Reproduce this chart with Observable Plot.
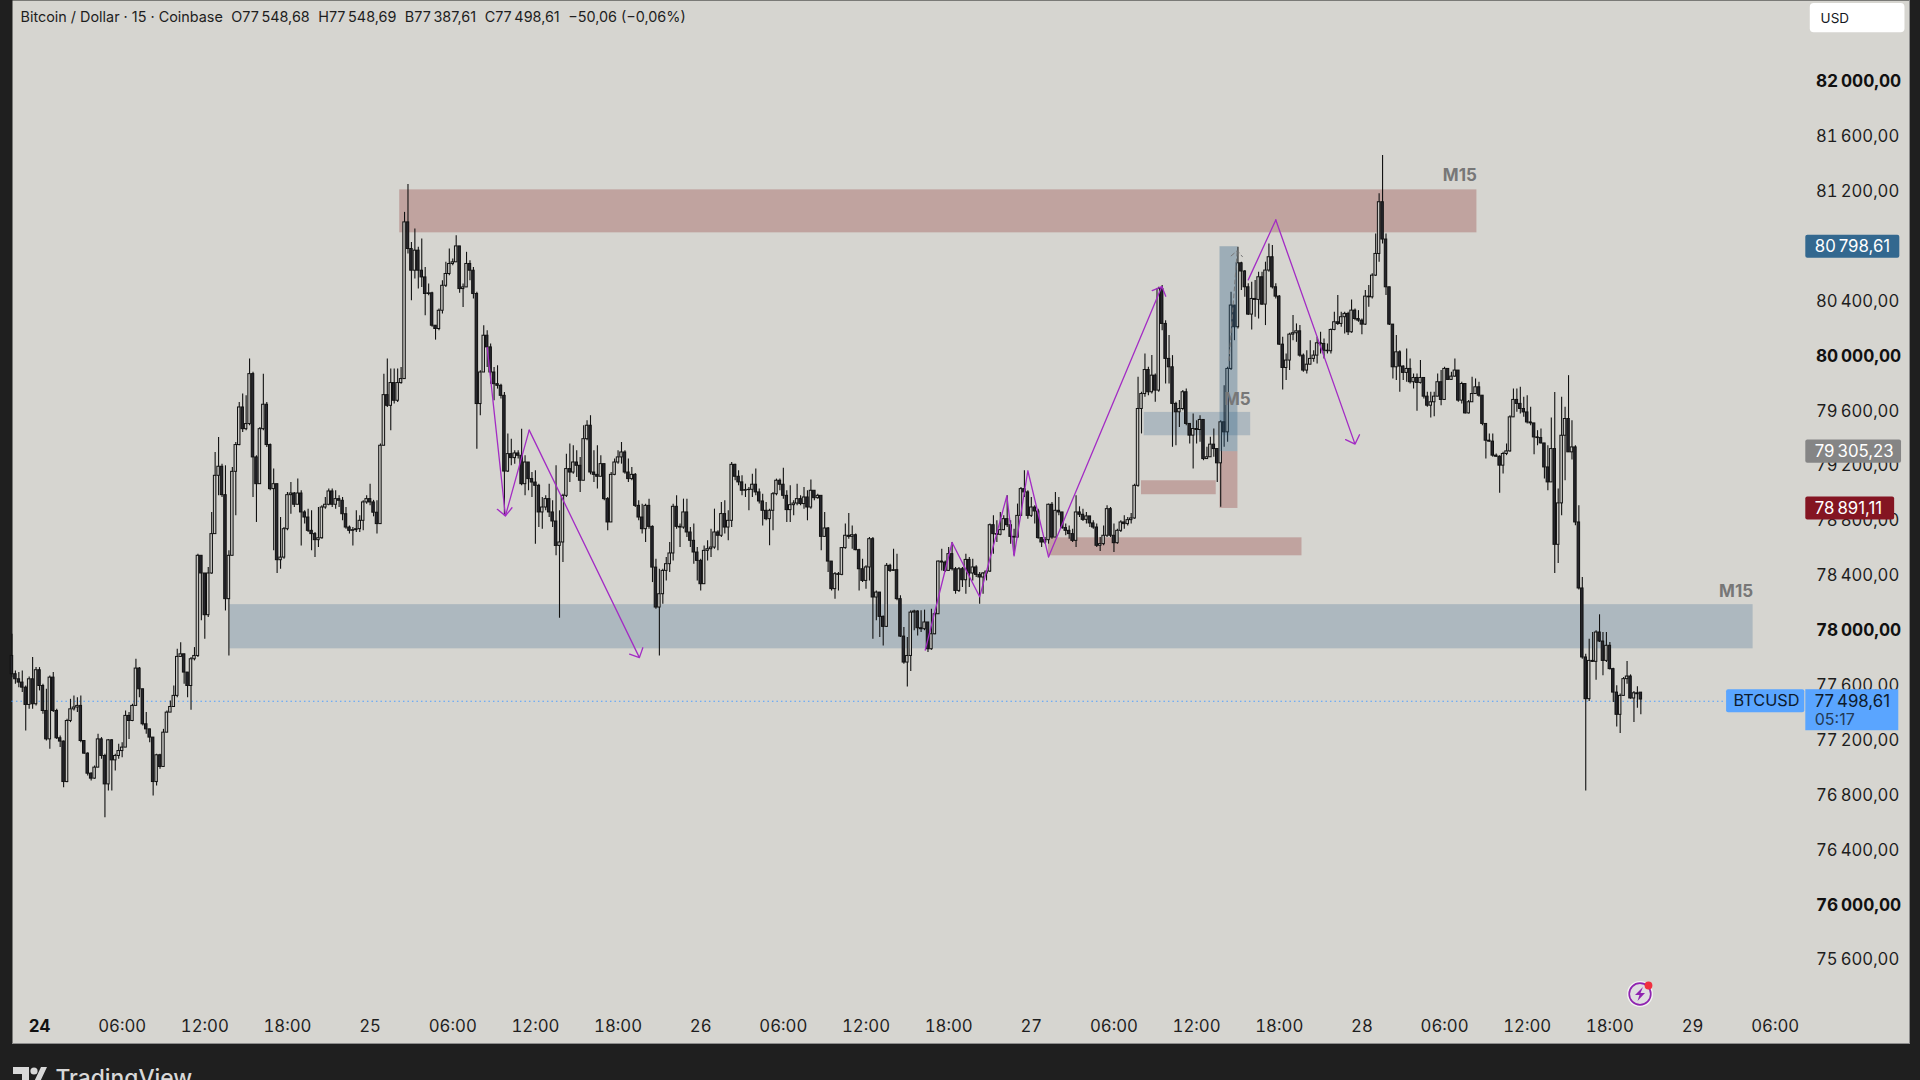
<!DOCTYPE html>
<html><head><meta charset="utf-8">
<script src="https://cdn.jsdelivr.net/npm/d3@7"></script>
<script src="https://cdn.jsdelivr.net/npm/@observablehq/plot@0.6"></script>
<style>html,body{margin:0;background:#1f1f1f}svg{display:block}</style></head><body>
<script>
// Each session: flat close, high, low triples, 15-minute bars in order. Open = previous close.
const firstOpen = 77816;
const sessionA = [
77683,77974,77658, 77646,77707,77610, 77622,77695,77585, 77585,77707,77549, 77459,77597,77269, 77646,77663,77427, 77464,77804,77427, 77712,77731,77452, 77597,77731,77561, 77415,77610,77391,
77208,77573,77196, 77658,77670,77136, 77415,77695,77403, 77216,77427,77208, 77192,77233,77148, 76897,77196,76856, 77342,77354,76892, 77427,77500,77330, 77440,77525,77415, 77452,77512,77403,
77196,77525,77184, 77104,77196,77099, 76958,77111,76941, 76922,76965,76905, 77002,77014,76917, 77208,77245,77002, 77087,77221,77063, 76880,77099,76637, 77201,77208,76832, 77055,77208,76832,
77087,77099,76978, 77123,77172,77063, 77148,77184,77075, 77379,77415,77148, 77342,77403,77208, 77452,77464,77337, 77724,77792,77452, 77573,77731,77512, 77318,77573,77306, 77281,77403,77245,
77221,77281,77184, 76897,77221,76795, 77092,77099,76868, 77007,77099,76990, 77257,77281,77007, 77403,77415,77257, 77444,77488,77403, 77525,77597,77444, 77809,77865,77512, 77828,77913,77804,
77695,77828,77610, 77597,77695,77512, 77792,77804,77420, 77816,77877,77780, 78546,78558,77804, 78417,78546,78072, 78113,78417,77938, 78417,78460,78096, 78704,78862,78412, 79129,79299,78704,
79195,79409,78983, 78988,79214,78971, 78230,79202,78144, 78546,78582,77816, 79158,79190,78546, 79353,79372,78837, 79627,79664,79348, 79469,79725,79445, 79506,79712,79457, 79870,79980,79494];
const sessionB = [
79263,79883,78971, 79068,79275,78789, 79469,79482,79068, 79647,79870,79457, 79353,79664,79336, 79032,79360,79020, 79068,79178,78582, 78514,79068,78417, 78533,78825,78448, 78740,78752,78521,
78988,79007,78728, 79000,79080,78849, 78918,79007,78898, 79000,79105,78918, 78862,79020,78618, 78825,78874,78777, 78728,78886,78716, 78704,78874,78582, 78660,78716,78533, 78674,78898,78606,
78898,78910,78667, 78918,78971,78886, 79015,79032,78910, 78918,79032,78898, 78959,79020,78886, 78947,78983,78898, 78849,78971,78801, 78752,78898,78740, 78728,78764,78704, 78733,78752,78618,
78740,78874,78716, 78801,78837,78716, 78935,78947,78728, 78959,78983,78922, 78935,79068,78910, 78860,78950,78830, 78777,78947,78704, 79348,79360,78777, 79717,79870,79348, 79639,79980,79627, 79805,79907,79457,
79676,79907,79652, 79805,79907,79664, 79834,79919,79797, 80976,81049,79834, 80782,81253,80745, 80624,80830,80405, 80770,80928,80563, 80624,80794,80490, 80575,80855,80502, 80454,80648,80296,
80459,80527,80442, 80223,80466,80211, 80199,80223,80118, 80332,80344,80186, 80514,80551,80308, 80600,80685,80502, 80673,80782,80587, 80685,80709,80660, 80801,80879,80685, 80490,80721,80459,
80502,80527,80356, 80673,80758,80502, 80624,80697,80551, 80454,80648,80417, 79652,80466,79323, 79882,79894,79566, 80150,80223,79882, 80065,80186,79919, 79882,80089,79797, 79797,79919,79676,
79785,79931,79761, 79712,79797,79688, 79160,79737,78837];
const sessionC = [
79287,79433,79153, 79258,79396,79202, 79292,79311,79214, 79275,79311,79251, 79068,79469,79056, 79226,79275,78983, 79105,79226,79020, 79080,79153,78971, 79056,79165,78631,
78862,79068,78752, 78898,78971,78740, 78959,78983,78874, 78862,79068,78825, 78796,78947,78752, 78618,79202,78546, 78643,78874,78091, 78983,78995,78497, 79178,79287,78971, 79153,79360,79080,
79226,79348,79141, 79202,79311,79117, 79093,79263,79007, 79396,79494,79214, 79494,79530,79384, 79153,79567,79136, 79136,79311,79080, 79122,79348,79032, 79214,79275,79129, 78959,79153,78947,
78789,78971,78728, 79136,79153,78789, 79226,79251,79129, 79263,79311,79214, 79299,79372,79214, 79153,79311,79141, 79105,79251,79080, 79136,79190,79093, 78910,79146,78898, 78825,78947,78801,
78740,78922,78704, 78910,78922,78643, 78757,78959,78740, 78460,78764,78351, 78169,78521,78157, 78266,78448,77816, 78436,78448,78193, 78485,78533,78363, 78563,78643,78424, 78903,78922,78509,
78757,78983,78740, 78752,78777,78606, 78862,78959,78740, 78716,78959,78679, 78655,78752,78606, 78570,78777,78485, 78509,78606,78363, 78339,78521,78290, 78582,78618,78339, 78594,78655,78509,
78606,78740,78533, 78716,78886,78594, 78692,78728,78582, 78850,78935,78679, 78752,78947,78704, 78801,78874,78655, 79209,79226,78752, 79122,79214,79093, 79081,79166,79056, 79020,79129,78983,
79025,79068,78971, 79027,79044,78874, 79064,79141,78971, 79008,79178,78983, 78942,79032,78923, 78874,78995,78764, 78813,78935,78801, 78874,78886,78619, 78995,79008,78728, 79093,79105,78983,
79064,79105,79020, 78983,79185,78959, 78879,79020,78789, 78915,79056,78789, 78927,78947,78837, 78959,79068,78910, 78923,78983,78910, 78971,79044,78886, 78898,79020,78801, 79020,79098,78886,
78966,78995,78947, 78983,78995,78959, 78684,78983,78582, 78745,78862,78679, 78504,78752,78424, 78303,78497,78290, 78412,78424,78230, 78407,78424,78290, 78602,78607,78400, 78692,78777,78594,
78684,78854,78667, 78696,78764,78594, 78587,78704,78582, 78448,78594,78290, 78363,78521,78351, 78461,78473,78303, 78667,78679,78363, 78242,78679,77938, 78278,78290,78072, 78101,78278,77950,
78028,78108,77889, 78473,78490,78023, 78436,78485,78424, 78441,78594,78431, 78230,78558,78218, 77957,78254,77950, 77768,78023,77756, 77816,77950,77590, 78132,78145,77702, 78140,78150,78000,
78018,78145,77962, 78011,78145,77987, 78060,78150,78000, 77865,78060,77841, 77974,78157,77858, 78120,78132,77970, 78504,78509,78120, 78497,78594,78436, 78436,78509,78424, 78558,78607,78431];
const sessionD = [
78448,78643,78436, 78290,78461,78266, 78448,78461,78278, 78368,78461,78315, 78516,78558,78266, 78417,78534,78315, 78461,78521,78363, 78407,78473,78388, 78388,78424,78193, 78417,78424,78266,
78431,78436,78363, 78769,78777,78424, 78704,78837,78558, 78699,78801,78643, 78733,78862,78692, 78813,78837,78728, 78769,78983,78752, 78684,78801,78631, 78679,78740,78546, 78837,78923,78675,
79032,79044,78837, 79008,79166,78971, 78837,79020,78813, 78898,78971,78825, 78869,78910,78777, 78675,78886,78667, 78643,78679,78606, 78660,78679,78631, 78918,78923,78631, 78679,78935,78667,
78874,79008,78679, 78862,78971,78837, 78748,78862,78740, 78728,78777,78692, 78704,78764,78667, 78655,78740,78643, 78862,78983,78606, 78845,78903,78825, 78808,78886,78796, 78833,78862,78777,
78782,78825,78752, 78752,78801,78740, 78619,78777,78607, 78631,78679,78577, 78692,78764,78619, 78886,78910,78679, 78692,78898,78679, 78638,78777,78570, 78728,78740,78631,
78789,78801,78716, 78777,78837,78740, 78806,78825,78764, 78818,78854,78777, 79056,79068,78813, 79616,79847,79045, 79725,79738,79434, 79900,80017,79701, 79738,79920,79713, 79859,80005,79725,
79750,79871,79665, 80491,80503,79738, 80236,80516,80187, 79981,80260,79798, 79920,80151,79798, 79653,80005,79337, 79592,79665,79349, 79616,79677,79482, 79738,79750,79604, 79507,79762,79494,
79422,79507,79361, 79470,79579,79179, 79463,79531,79361, 79536,79567,79373, 79251,79536,79239, 79264,79337,79251, 79356,79410,79264, 79324,79470,79264, 79220,79324,79081, 79519,79531,78899,
79446,79786,79337, 79908,79920,79373, 80370,80467,79896, 80212,80370,80114, 80678,80795,80199, 80618,80686,80479, 80503,80625,80430, 80304,80528,80297, 80418,80540,80192, 80411,80552,80285,
80576,80613,80272, 80377,80613,80370, 80625,80686,80224, 80722,80819,80613, 80503,80807,80491, 80435,80528,80418, 80085,80443,80078, 79915,80139,79755, 79969,80017,79823, 80158,80168,79896,
80168,80297,80114, 80182,80236,80102, 80005,80224,79993, 79896,80017,79884, 79939,80041,79871, 79981,80114,79939, 80005,80041,79956, 80095,80139,79944, 80090,80175,80017, 80041,80127,79981,
80037,80090,80017, 80192,80199,80017, 80248,80321,80187, 80236,80443,80224, 80285,80321,80212, 80309,80321,80163, 80175,80321,80151, 80333,80411,80168, 80272,80345,80260, 80260,80333,80248];
const sessionE = [
80231,80272,80158, 80435,80479,80224, 80430,80516,80357, 80588,80601,80418, 80746,80892,80581, 81123,81184,80686, 80851,81464,80819, 80503,80892,80443, 80231,80503,80224, 79920,80224,79835,
80029,80151,79823, 79925,80041,79738, 79879,79932,79823, 79908,80054,79811, 79811,79981,79798, 79842,79871,79762, 79806,79871,79599, 79842,79969,79798, 79706,79835,79689, 79640,79738,79628,
79665,79738,79550, 79706,79738,79560, 79811,79871,79713, 79682,79896,79640, 79908,79920,79677, 79828,79896,79823, 79852,79884,79823, 79896,79981,79847, 79677,79896,79665, 79798,79811,79652,
79584,79798,79580, 79665,79677,79580, 79725,79847,79665, 79774,79835,79725, 79713,79811,79701, 79507,79713,79494, 79385,79507,79251, 79378,79434,79373, 79276,79434,79264, 79268,79288,79264,
79203,79276,79001, 79288,79300,79142, 79307,79361,79276, 79555,79567,79300, 79682,79762,79555, 79653,79762,79592, 79616,79774,79579, 79591,79701,79555, 79518,79713,79506, 79511,79628,79494,
79409,79506,79283, 79404,79458,79348, 79365,79470,79360, 79190,79360,79105, 79081,79348,79020, 79324,79550,79081, 78626,79737,78417, 78928,79032,78490, 79421,79701,78838, 79543,79628,79093,
79300,79859,79300, 79336,79531,79244, 78789,79348,78765, 78308,78911,78296, 77805,78388,77792, 77501,77829,76832, 77780,77938,77484, 77773,77987,77768, 77987,77999,77639, 77921,78116,77914,
77780,77987,77671, 77890,77987,77768, 77720,77914,77713, 77549,77727,77477, 77387,77598,77299, 77525,77538,77250, 77647,77659,77525, 77666,77775,77610, 77506,77678,77501, 77544,77557,77331,
77537,77591,77435, 77498.61,77548.69,77387.61];

const priceTicks = [82000,81600,81200,80800,80400,80000,79600,79200,78800,78400,78000,77600,77200,76800,76400,76000,75600];
const boldPriceTicks = [82000,80000,78000,76000];
const timeTicks = [24,48,72,96,120,144,168,192,216,240,264,288,312,336,360,384,408,432,456,480,504];
const timeLabels = ["06:00","12:00","18:00","25","06:00","12:00","18:00","26","06:00","12:00","18:00","27","06:00","12:00","18:00","28","06:00","12:00","18:00","29","06:00"];

const redZones = [
 {a:104.6,b:417.4,lo:80900,hi:81213},
 {a:320,b:341.7,lo:78991,hi:79093},
 {a:293,b:366.6,lo:78546,hi:78677},
 {a:342.8,b:348,lo:78891.11,hi:79305.23}];
const blueZones = [
 {a:55.3,b:497.6,lo:77868,hi:78190},
 {a:320.8,b:351.7,lo:79421,hi:79591}];
const tallBlue = [{a:342.8,b:348,lo:79305.23,hi:80798.61}];
const pathDown1 = [[130,80065],[135.3,78837]];
const pathDown2 = [[135.3,78837],[142.2,79462]];
const pathDown3 = [[142.2,79462],[174.2,77804]];
const pathUp = [[257.2,77858],[265,78643],[273,78247],[280.9,78983],[283,78546],[287,79166],[293,78538]];
const pathUpArrow = [[293,78538],[325.9,80508]];
const pathPeak = [[351,80557],[359,80994]];
const pathPeakArrow = [[359,80994],[382,79360]];
const pathGray = [[345.4,79968],[347.8,80770]];
const tagIndex = 512.9;
const lastPriceLevel = 77486;

const bars = [];
let prev = firstOpen;
[...sessionA,...sessionB,...sessionC,...sessionD,...sessionE].forEach((v,n,all)=>{
  if(n%3) return;
  const c=v,h=all[n+1],l=all[n+2],i=n/3-8;
  bars.push({i,o:prev,c,h:Math.max(h,prev,c),l:Math.min(l,prev,c)});
  prev=c;
});
bars[bars.length-1].o=77548.68;

const priceFmt = d=>{const s=d.toFixed(2).replace(".",",");return s.slice(0,2)+"\u2009"+s.slice(2)};
const purple="#a32cc4";
const arrow=(p,o={})=>Plot.arrow([p],{x1:d=>d[0][0],y1:d=>d[0][1],x2:d=>d[1][0],y2:d=>d[1][1],stroke:purple,strokeWidth:1.3,headLength:12,headAngle:90,bend:0,inset:0,...o});
const seg=(p)=>Plot.line(p,{x:d=>d[0],y:d=>d[1],stroke:purple,strokeWidth:1.3,curve:"linear"});
const tag=(price,label,bg,right,color="#fff")=>[
  Plot.rect([price],{x1:tagIndex,x2:right,y1:d=>d-84,y2:d=>d+84,fill:bg,rx:2}),
  Plot.text([price],{x:tagIndex+2.6,y:d=>d,text:()=>label,fill:color,textAnchor:"start",fontSize:16.8})];
const zone=(data,fill,fillOpacity)=>Plot.rect(data,{x1:"a",x2:"b",y1:"lo",y2:"hi",fill,fillOpacity});

const chrome=()=>{
  const g=d3.create("svg:g");
  g.append("path").attr("fill","#d8d8d8").attr("d","M13 1067H29V1084H22V1074H13ZM41 1067H47L39 1084H33Z");
  g.append("circle").attr("cx",34).attr("cy",1071).attr("r",3.6).attr("fill","#d8d8d8");
  g.append("circle").attr("cx",1640).attr("cy",994).attr("r",13).attr("fill","#f4f3f2");
  g.append("circle").attr("cx",1640).attr("cy",994).attr("r",10.8).attr("fill","#dfdde0").attr("stroke","#8f23b0").attr("stroke-width",1.7);
  g.append("path").attr("fill","#8f23b0").attr("d","M1643 987L1635 995H1639.5L1637.5 1001L1645 993H1640.5Z");
  g.append("circle").attr("cx",1648.5).attr("cy",985.5).attr("r",3.9).attr("fill","#f0303f");
  return g.node();
};

const chart = Plot.plot({
  width:1920,height:1080,marginLeft:12,marginRight:11,marginTop:0,marginBottom:37,
  style:{background:"#1f1f1f",fontFamily:"Inter, sans-serif"},
  x:{domain:[0,480],range:[39,1692]},
  y:{domain:[75600,82000],range:[959.5,81.4]},
  marks:[
    Plot.frame({fill:"#d6d5d0",stroke:null}),
    Plot.frame({anchor:"right",stroke:"#8d8d8d"}),
    Plot.frame({anchor:"bottom",stroke:"#8d8d8d"}),
    zone(redZones,"#8b2a2a",0.29),
    zone(blueZones,"#33658a",0.25),
    Plot.ruleY([lastPriceLevel],{x1:-8,x2:tagIndex-23,stroke:"#4f9fff",strokeWidth:1.2,strokeDasharray:"1.5 3"}),
    Plot.ruleX(bars,{x:"i",y1:"l",y2:"h",stroke:"#111",strokeWidth:1.1}),
    Plot.rect(bars,{x1:d=>d.i-.36,x2:d=>d.i+.36,y1:"o",y2:"c",fill:d=>d.c>=d.o?"#c9c8c4":"#26262c",stroke:"#111",strokeWidth:1}),
    zone(tallBlue,"#33658a",0.35),
    seg(pathDown2),seg(pathUp),seg(pathPeak),
    arrow(pathDown1),arrow(pathDown3),arrow(pathUpArrow),arrow(pathPeakArrow),
    arrow(pathGray,{stroke:"#777",strokeWidth:1,strokeDasharray:"4 3"}),
    Plot.text(["M15"],{x:417.4,y:81314,text:d=>d,textAnchor:"end",fontSize:17,fontWeight:700,fill:"#777"}),
    Plot.text(["M15"],{x:497.6,y:78286,text:d=>d,textAnchor:"end",fontSize:17,fontWeight:700,fill:"#777"}),
    Plot.text(["M5"],{x:351.7,y:79687,text:d=>d,textAnchor:"end",fontSize:17,fontWeight:700,fill:"#777"}),
    Plot.axisY({anchor:"right",ticks:priceTicks.filter(t=>!boldPriceTicks.includes(t)),tickFormat:priceFmt,tickSize:0,tickPadding:-93.5,textAnchor:"start",fontSize:16.7,fill:"#1e1e1e",label:null}),
    Plot.axisY({anchor:"right",ticks:boldPriceTicks,tickFormat:priceFmt,tickSize:0,tickPadding:-93.5,textAnchor:"start",fontSize:17.2,fontWeight:700,fill:"#111",label:null}),
    Plot.axisX({anchor:"bottom",ticks:timeTicks,tickFormat:d=>timeLabels[timeTicks.indexOf(d)],tickSize:0,tickPadding:-23.5,fontSize:16.8,fill:"#1e1e1e",label:null}),
    Plot.axisX({anchor:"bottom",ticks:[0],tickFormat:()=>"24",tickSize:0,tickPadding:-23.5,fontSize:16.8,fontWeight:700,fill:"#111",label:null}),
    tag(80798.61,"80\u2009798,61","#33688f",tagIndex+27.3),
    tag(79305.23,"79\u2009305,23","#858585",tagIndex+27.8),
    tag(78891.11,"78\u2009891,11","#841522",tagIndex+25.8),
    Plot.rect([0],{x1:tagIndex,x2:tagIndex+27,y1:lastPriceLevel+84,y2:lastPriceLevel-215,fill:"#5aa5ff"}),
    Plot.rect([0],{x1:tagIndex-23,x2:tagIndex-.3,y1:lastPriceLevel+84,y2:lastPriceLevel-84,fill:"#5aa5ff",rx:2}),
    Plot.text(["BTCUSD"],{x:tagIndex-21,y:lastPriceLevel,text:d=>d,textAnchor:"start",fontSize:16.3,fill:"#0d1a2c"}),
    Plot.text(["77\u2009498,61"],{x:tagIndex+2.6,y:lastPriceLevel,text:d=>d,textAnchor:"start",fontSize:16.8,fill:"#0d1a2c"}),
    Plot.text(["05:17"],{x:tagIndex+2.6,y:lastPriceLevel-134,text:d=>d,textAnchor:"start",fontSize:16,fill:"#233a55"}),
    Plot.rect([0],{x1:tagIndex+1.3,x2:tagIndex+28.8,y1:82572,y2:82359,fill:"#fff",rx:4}),
    Plot.text(["USD"],{x:tagIndex+4.3,y:82464,text:d=>d,textAnchor:"start",fontSize:13.5,fill:"#131722"}),
    Plot.text(["Bitcoin / Dollar \u00b7 15 \u00b7 Coinbase\u2002\u200aO77\u2009548,68\u2002\u200a H77\u2009548,69\u2002\u200a B77\u2009387,61\u2002\u200a C77\u2009498,61\u2002\u200a \u221250,06 (\u22120,06%)".replace(/\u200a /g,"\u200a")],{frameAnchor:"top-left",dx:8,dy:11,text:d=>d,fontSize:14.4,fill:"#1e1e1e"}),
    Plot.text(["TradingView"],{frameAnchor:"bottom-left",dx:43,dy:42,text:d=>d,fontSize:22.8,fontWeight:500,fill:"#d8d8d8",lineAnchor:"bottom"}),
    chrome
  ]
});
document.body.appendChild(chart);
</script></body></html>
